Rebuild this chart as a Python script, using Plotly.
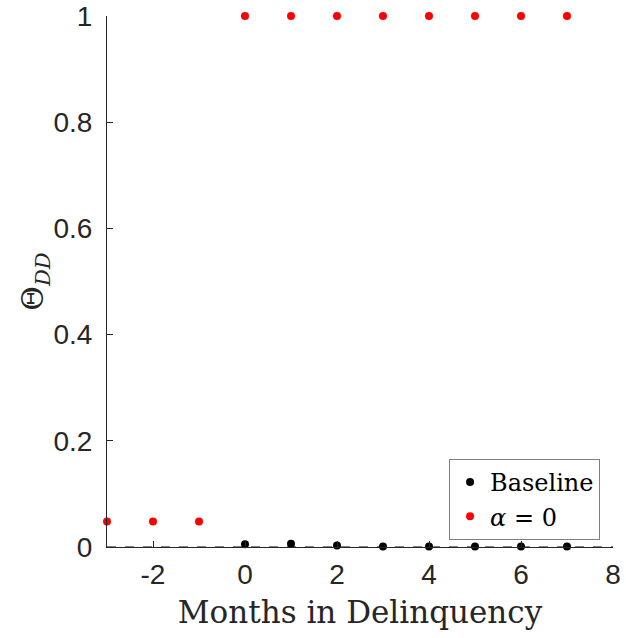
import plotly.graph_objects as go

months_alpha = [-3, -2, -1, 0, 1, 2, 3, 4, 5, 6, 7]
theta_alpha = [0.048, 0.048, 0.048, 1, 1, 1, 1, 1, 1, 1, 1]
months_base = [0, 1, 2, 3, 4, 5, 6, 7]
theta_base = [0.005, 0.006, 0.003, 0.001, 0.001, 0.001, 0.001, 0.001]
ref_x = [-3, 8]
ref_y = [0, 0]
x_ticks = [-2, 0, 2, 4, 6, 8]
x_tick_text = ["-2", "0", "2", "4", "6", "8"]
y_ticks = [0, 0.2, 0.4, 0.6, 0.8, 1]
y_tick_text = ["0", "0.2", "0.4", "0.6", "0.8", "1"]

axis_col = "#262626"
tick_font = dict(family="Liberation Sans, Arial", size=28, color=axis_col)

fig = go.Figure()
fig.add_trace(go.Scatter(x=ref_x, y=ref_y, mode="lines",
                         line=dict(color="black", width=1.2, dash="dash"),
                         showlegend=False, hoverinfo="skip"))
fig.add_trace(go.Scatter(x=months_base, y=theta_base, mode="markers",
                         marker=dict(color="black", size=8), name="Baseline",
                         cliponaxis=False))
fig.add_trace(go.Scatter(x=months_alpha, y=theta_alpha, mode="markers",
                         marker=dict(color="red", size=8), name="<i>α</i> = 0",
                         cliponaxis=False))

fig.update_layout(
    width=626, height=638,
    margin=dict(l=107, r=13, t=16, b=91),
    plot_bgcolor="white", paper_bgcolor="white",
    font=dict(family="Liberation Sans, Arial", size=22, color=axis_col),
    legend=dict(x=0.676, y=0.166, xanchor="left", yanchor="top",
                bordercolor="#7f7f7f", borderwidth=1, bgcolor="white",
                font=dict(family="DejaVu Serif, serif", size=24, color="black"),
                tracegroupgap=0),
    xaxis=dict(range=[-3, 8], tickvals=x_ticks, ticktext=x_tick_text,
               ticks="inside", ticklen=6, automargin=False, ticklabelstandoff=2,
               tickcolor=axis_col, showline=True, linecolor=axis_col, linewidth=1,
               showgrid=False, zeroline=False, mirror=False, tickfont=tick_font,
               title=dict(text="Months in Delinquency",
                          font=dict(family="DejaVu Serif, serif", size=31, color=axis_col),
                          standoff=12)),
    yaxis=dict(range=[0, 1], tickvals=y_ticks, ticktext=y_tick_text, ticks="inside",
               ticklen=6, tickcolor=axis_col, showline=True, linecolor=axis_col,
               linewidth=1, showgrid=False, zeroline=False, automargin=False,
               ticklabelstandoff=8, tickfont=tick_font,
               title=dict(text="Θ<sub><i>DD</i></sub>",
                          font=dict(family="DejaVu Serif, serif", size=30, color=axis_col),
                          standoff=0)),
)

fig.write_html("out.html")
